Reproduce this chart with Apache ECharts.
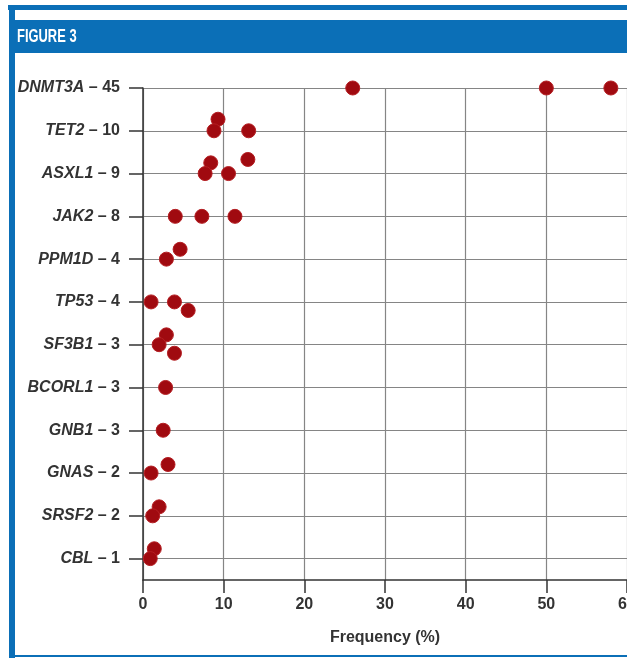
<!DOCTYPE html>
<html>
<head>
<meta charset="utf-8">
<script src="https://cdn.jsdelivr.net/npm/echarts@6/dist/echarts.min.js"></script>
<style>
  html, body { margin: 0; padding: 0; background: #fff; }
  #chart { width: 627px; height: 658px; }
</style>
</head>
<body>
<div id="chart"></div>
<script>
// genes and the number of studies, top to bottom
const genes = ['DNMT3A', 'TET2', 'ASXL1', 'JAK2', 'PPM1D', 'TP53', 'SF3B1', 'BCORL1', 'GNB1', 'GNAS', 'SRSF2', 'CBL']
const studies = [45, 10, 9, 8, 4, 4, 3, 3, 3, 2, 2, 1]

// frequency (%) of each point, per gene
const freq = [
  [26, 50, 58],
  [9.3, 8.8, 13.1],
  [8.4, 7.7, 10.6, 13.0],
  [4.0, 7.3, 11.4],
  [4.6, 2.9],
  [1.0, 3.9, 5.6],
  [2.9, 2.0, 3.9],
  [2.8],
  [2.5],
  [3.1, 1.0],
  [2.0, 1.2],
  [1.4, 0.9]
]

// small vertical offset of each point off its gene row (in rows)
const jitter = [
  [0, 0, 0],
  [-0.27, 0, 0],
  [-0.25, 0, 0, -0.33],
  [0, 0, 0],
  [-0.23, 0],
  [0, 0, 0.2],
  [-0.23, 0, 0.2],
  [0],
  [0],
  [-0.2, 0],
  [-0.21, 0],
  [-0.23, 0]
]

const xTicks = [0, 10, 20, 30, 40, 50, 60]

const points = []
freq.forEach((row, gi) => {
  row.forEach((v, k) => {
    points.push([v, gi + jitter[gi][k]])
  })
})

const rowIdx = genes.map((g, i) => i)
const blue = '#0b6fb7'
const axisColor = '#333'
const gridColor = '#858585'
const font = '"Liberation Sans", Arial, sans-serif'

const chart = echarts.init(document.getElementById('chart'), null, { renderer: 'canvas' })

const option = {
  animation: false,
  backgroundColor: '#fff',
  grid: {
    left: 143,
    right: 0,
    top: 88,
    bottom: 78,
    containLabel: false,
    outerBoundsMode: 'none'
  },
  graphic: [
    { type: 'rect', shape: { x: 8, y: 5, width: 619, height: 5 }, style: { fill: blue } },
    { type: 'rect', shape: { x: 9, y: 5, width: 6, height: 653 }, style: { fill: blue } },
    { type: 'rect', shape: { x: 15, y: 20, width: 612, height: 33 }, style: { fill: blue } },
    { type: 'rect', shape: { x: 9, y: 655, width: 618, height: 2 }, style: { fill: blue } },
    {
      type: 'text',
      x: 17,
      y: 27,
      scaleX: 0.68,
      style: {
        text: 'FIGURE 3',
        fill: '#fff',
        font: 'bold 19px "Liberation Sans", Arial, sans-serif'
      }
    }
  ],
  xAxis: {
    type: 'value',
    min: 0,
    max: 60,
    interval: 10,
    name: 'Frequency (%)',
    nameLocation: 'middle',
    nameGap: 50,
    nameTextStyle: {
      color: axisColor,
      fontSize: 16,
      fontWeight: 'bold',
      fontFamily: font
    },
    axisLine: { show: true, onZero: false, lineStyle: { color: axisColor, width: 1.5 } },
    axisTick: { show: true, inside: false, length: 13, lineStyle: { color: axisColor, width: 1.5 } },
    axisLabel: {
      margin: 17,
      color: axisColor,
      fontSize: 16,
      fontWeight: 'bold',
      fontFamily: font,
      showMaxLabel: true,
      hideOverlap: false,
      customValues: xTicks
    },
    splitLine: { show: true, lineStyle: { color: gridColor, width: 1.2 } }
  },
  yAxis: {
    type: 'value',
    inverse: true,
    min: 0,
    max: 11.5,
    interval: 1,
    axisLine: { show: true, onZero: false, lineStyle: { color: axisColor, width: 1.5 } },
    axisTick: {
      show: true,
      length: 14,
      customValues: rowIdx,
      lineStyle: { color: axisColor, width: 1.5 }
    },
    axisLabel: {
      margin: 23,
      customValues: rowIdx,
      formatter: (v) => {
        const i = Math.round(v)
        if (i < 0 || i >= genes.length) return ''
        return '{g|' + genes[i] + '}{n| – ' + studies[i] + '}'
      },
      rich: {
        g: {
          color: axisColor,
          fontSize: 16,
          fontStyle: 'italic',
          fontWeight: 'bold',
          fontFamily: font
        },
        n: {
          color: axisColor,
          fontSize: 16,
          fontWeight: 'bold',
          fontFamily: font
        }
      }
    },
    splitLine: { show: true, lineStyle: { color: gridColor, width: 1.2 } }
  },
  series: [
    {
      type: 'scatter',
      data: points,
      symbol: 'circle',
      symbolSize: 14,
      clip: false,
      itemStyle: {
        color: '#a00a10',
        borderColor: '#b41e22',
        borderWidth: 1,
        opacity: 1
      }
    }
  ]
}

chart.setOption(option)
</script>
</body>
</html>
